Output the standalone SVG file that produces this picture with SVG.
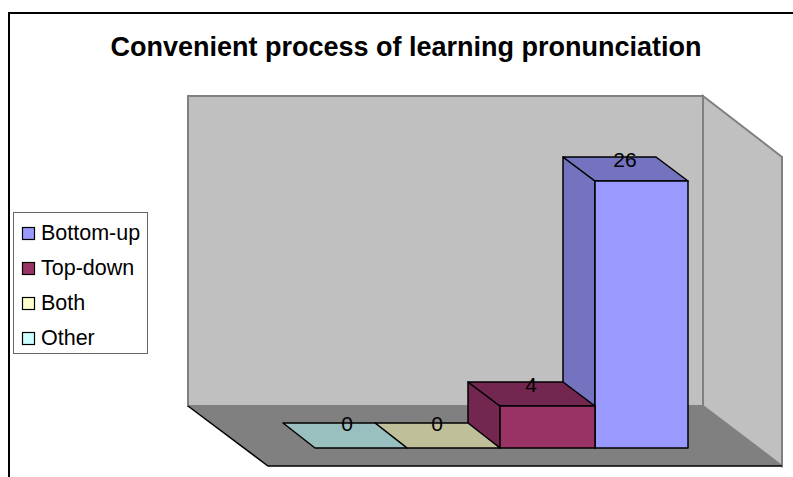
<svg xmlns="http://www.w3.org/2000/svg" width="793" height="477" viewBox="0 0 793 477">
<style>
text{font-family:"Liberation Sans",Arial,sans-serif;fill:#000}
.title{font-size:27px;font-weight:bold}
.lbl{font-size:21px;text-anchor:middle}
.leg{font-size:21.5px}
.edge{stroke:#000;stroke-width:1.5;stroke-linejoin:round}
.sw{stroke:#000;stroke-width:1.2}
</style>
<rect width="793" height="477" fill="#fff"/>
<path d="M9,477 V13 H793" fill="none" stroke="#000" stroke-width="2"/>
<text class="title" x="406" y="56" text-anchor="middle">Convenient process of learning pronunciation</text>
<g id="walls">
<rect x="188" y="96" width="515" height="310" fill="#C0C0C0" stroke="#808080" stroke-width="2"/>
<polygon points="703,96 782,157 782,466 703,406" fill="#C0C0C0" stroke="#808080" stroke-width="2"/>
<polygon points="188,406 703,406 782,466 268,466" fill="#808080"/>
<path d="M188,406 L268,466 H782" fill="none" stroke="#000" stroke-width="1.5"/>
</g>
<g id="bar-bottom-up">
<polygon class="edge" points="563,157 595,181 595,448 563,424" fill="#7373BF"/>
<polygon class="edge" points="563,157 656,157 688,181 595,181" fill="#7373BF"/>
<rect class="edge" x="595" y="181" width="93" height="267" fill="#9999FF"/>
<text class="lbl" x="625" y="167">26</text>
</g>
<g id="bar-top-down">
<polygon class="edge" points="468,382 500,406 500,448 468,424" fill="#732650"/>
<polygon class="edge" points="468,382 563,382 595,406 500,406" fill="#732650"/>
<rect class="edge" x="500" y="406" width="95" height="42" fill="#993366"/>
<text class="lbl" x="531" y="392">4</text>
</g>
<g id="bar-both">
<polygon class="edge" points="375,423 468,423 500,448 407,448" fill="#BFBF99"/>
<text class="lbl" x="437" y="431">0</text>
</g>
<g id="bar-other">
<polygon class="edge" points="283,423 375,423 407,448 315,448" fill="#99BFBF"/>
<text class="lbl" x="347" y="431">0</text>
</g>
<g id="legend">
<rect x="13.5" y="212.5" width="134" height="141" fill="#fff" stroke="#666" stroke-width="1"/>
<rect class="sw" x="22.5" y="227.5" width="12" height="12" fill="#9999FF"/>
<text class="leg" x="41" y="240">Bottom-up</text>
<rect class="sw" x="22.5" y="262.5" width="12" height="12" fill="#993366"/>
<text class="leg" x="41" y="275">Top-down</text>
<rect class="sw" x="22.5" y="297.5" width="12" height="12" fill="#FFFFCC"/>
<text class="leg" x="41" y="310">Both</text>
<rect class="sw" x="22.5" y="332.5" width="12" height="12" fill="#CCFFFF"/>
<text class="leg" x="41" y="345">Other</text>
</g>
</svg>
